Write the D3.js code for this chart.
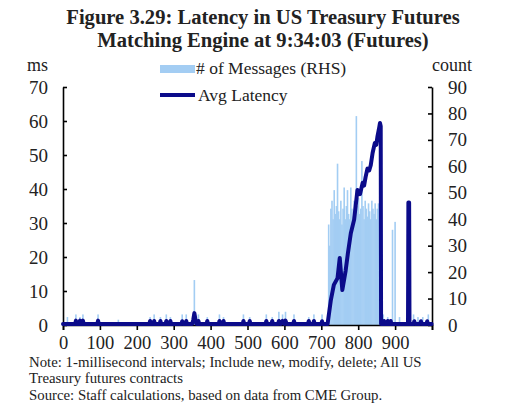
<!DOCTYPE html>
<html>
<head>
<meta charset="utf-8">
<script src="https://cdn.jsdelivr.net/npm/d3@7"></script>
<style>
  body { margin: 0; background: #fff; }
  svg text { font-family: "Liberation Serif", "Times New Roman", serif; fill: #222; }
  .axis path, .axis line { stroke: #000; stroke-width: 1.6; }
  .axis text { font-size: 19px; }
  .axis.xaxis text { font-size: 18.5px; }
</style>
</head>
<body>
<div id="chart"></div>
<script>
// latency (ms) at 1-millisecond points
const latMs  = [0, 33, 35, 37, 44, 46, 48, 52, 54, 56, 93, 95, 97, 234, 236, 238, 245, 247, 249, 262, 264, 266, 278, 280, 282, 289, 291, 293,
  321, 323, 325, 332, 334, 336, 350, 353, 356, 359, 362, 365, 367, 369, 389, 391, 393, 422, 424, 426, 433, 435, 437, 487, 489, 491,
  504, 506, 508, 549, 551, 553, 565, 567, 569, 583, 585, 590, 595, 600, 603, 606, 624, 626, 628, 664, 666, 668, 678, 680, 682, 700, 702, 704, 717,
  726, 734, 744, 750, 757, 766, 772, 780, 789, 798, 805, 812, 816, 820, 825, 830, 834, 839, 845, 849, 852, 856, 859, 861, 862,
  868, 870, 872, 878, 880, 882, 886, 888, 890, 935, 936, 938, 939, 950, 952, 954, 968, 970, 972, 985, 987, 989, 999];
const latVal = [0.3, 0.3, 1.3, 0.3, 0.3, 1.3, 0.3, 0.3, 1.3, 0.3, 0.3, 1.3, 0.3, 0.3, 1.2, 0.3, 0.3, 1.2, 0.3, 0.3, 1.2, 0.3, 0.3, 1.2, 0.3, 0.3, 1.2, 0.3,
  0.3, 1.1, 0.3, 0.3, 1.2, 0.3, 0.3, 1.5, 3.5, 1.5, 0.3, 0.3, 1.2, 0.3, 0.3, 1.2, 0.3, 0.3, 1.2, 0.3, 0.3, 1.2, 0.3, 0.3, 1.2, 0.3,
  0.3, 1.2, 0.3, 0.3, 1.2, 0.3, 0.3, 1.2, 0.3, 0.3, 1.2, 0.3, 1.2, 0.3, 1.3, 0.3, 0.3, 1.2, 0.3, 0.3, 1.2, 0.3, 0.3, 1.2, 0.3, 0.3, 1.1, 0.3, 0.3,
  7.4, 11.8, 13.8, 19.7, 10.3, 16, 21, 27, 31, 39.7, 38.5, 41.8, 41, 43.5, 46, 45.5, 47, 50.6, 53.5, 53, 55.3, 57.5, 59.4, 58.5, 0.3,
  0.3, 1.2, 0.3, 0.3, 1.2, 0.3, 0.3, 1.2, 0.3, 0.3, 36, 36, 0.3, 0.3, 1.1, 0.3, 0.3, 1.1, 0.3, 0.3, 1.1, 0.3, 0.3];

// # of messages per 1-ms interval (RHS)
const msgMs    = [12, 35, 46, 54, 95, 150, 236, 247, 264, 280, 291, 323, 334, 356, 367, 391, 424, 435, 489, 506, 551, 567, 585, 595, 603, 626, 666, 680, 702,
  720, 723, 726, 729, 732, 735, 738, 741, 744, 747, 750, 753, 756, 759, 762, 765, 768, 771, 774, 777, 780, 783, 786, 789, 792, 795,
  798, 801, 804, 807, 810, 813, 816, 819, 822, 825, 828, 831, 834, 837, 840, 843, 846, 849, 852, 855, 858,
  868, 880, 893, 900, 912, 950, 962, 975, 990];
const msgCount = [3, 4, 3, 4, 4, 2, 3, 4, 3, 4, 3, 4, 4, 17, 4, 3, 4, 3, 4, 3, 4, 3, 5, 4, 5, 4, 3, 4, 4,
  38, 30, 44, 47, 40, 51, 42, 45, 61, 43, 40, 47, 38, 44, 52, 40, 45, 51, 42, 40, 52, 44, 41, 47, 43, 79,
  45, 48, 42, 44, 62, 45, 40, 47, 44, 41, 46, 43, 40, 47, 44, 42, 46, 40, 44, 46, 38,
  4, 3, 36, 39, 3, 4, 3, 3, 4];

const leftTicks  = [0, 10, 20, 30, 40, 50, 60, 70];
const rightTicks = [0, 10, 20, 30, 40, 50, 60, 70, 80, 90];
const xTicks     = [0, 100, 200, 300, 400, 500, 600, 700, 800, 900, 1000];

const width = 512, height = 417;
const plot = { left: 63, right: 432, top: 87, bottom: 325 };
const barColor = '#a3cdf3', lineColor = '#0b0b8a';

const svg = d3.select('#chart').append('svg').attr('width', width).attr('height', height);

const x = d3.scaleLinear().domain([0, 1000]).range([plot.left, plot.right]);
const yL = d3.scaleLinear().domain([0, 70]).range([plot.bottom, plot.top]);
const yR = d3.scaleLinear().domain([0, 90]).range([plot.bottom, plot.top]);

// title
svg.append('text').attr('x', 263).attr('y', 24).attr('text-anchor', 'middle')
  .style('font-size', '20.6px').style('font-weight', 'bold')
  .text('Figure 3.29: Latency in US Treasury Futures');
svg.append('text').attr('x', 263).attr('y', 47).attr('text-anchor', 'middle')
  .style('font-size', '20.6px').style('font-weight', 'bold')
  .text('Matching Engine at 9:34:03 (Futures)');

// bars
const msgs = msgMs.map((m, i) => ({ ms: m, count: msgCount[i] }));
svg.append('g').selectAll('rect').data(msgs).enter().append('rect')
  .attr('x', d => x(d.ms) - 0.8)
  .attr('y', d => yR(d.count))
  .attr('width', 1.6)
  .attr('height', d => yR(0) - yR(d.count))
  .attr('fill', barColor);

// axes
svg.append('g').attr('class', 'axis').attr('transform', `translate(${plot.left},0)`)
  .call(d3.axisLeft(yL).tickValues(leftTicks).tickSizeInner(-4).tickSizeOuter(0).tickPadding(15));
svg.append('g').attr('class', 'axis').attr('transform', `translate(${plot.right},0)`)
  .call(d3.axisRight(yR).tickValues(rightTicks).tickSizeInner(-4).tickSizeOuter(0).tickPadding(16));
svg.append('g').attr('class', 'axis xaxis').attr('transform', `translate(0,${plot.bottom})`)
  .call(d3.axisBottom(x).tickValues(xTicks).tickSize(5).tickPadding(6)
    .tickFormat(d => d === 1000 ? '' : d));
svg.selectAll('.axis .domain').attr('stroke-width', 2);

// latency line
const lat = latMs.map((m, i) => ({ ms: m, v: latVal[i] }));
svg.append('path').datum(lat)
  .attr('fill', 'none').attr('stroke', lineColor).attr('stroke-width', 4)
  .attr('stroke-linejoin', 'round').attr('stroke-linecap', 'round')
  .attr('d', d3.line().x(d => x(d.ms)).y(d => yL(d.v)));

// unit labels
svg.append('text').attr('x', 27).attr('y', 71).style('font-size', '18px').text('ms');
svg.append('text').attr('x', 432).attr('y', 71).style('font-size', '18px').text('count');

// legend
svg.append('rect').attr('x', 160).attr('y', 65).attr('width', 35).attr('height', 8).attr('fill', barColor);
svg.append('text').attr('x', 196).attr('y', 74).style('font-size', '17.5px').text('# of Messages (RHS)');
svg.append('line').attr('x1', 160).attr('x2', 195).attr('y1', 95).attr('y2', 95)
  .attr('stroke', lineColor).attr('stroke-width', 4);
svg.append('text').attr('x', 198).attr('y', 101).style('font-size', '17.5px').text('Avg Latency');

// notes
const notes = ['Note: 1-millisecond intervals; Include new, modify, delete; All US',
  'Treasury futures contracts',
  'Source: Staff calculations, based on data from CME Group.'];
svg.append('g').selectAll('text').data(notes).enter().append('text')
  .attr('x', 29).attr('y', (d, i) => 367 + i * 16.3)
  .style('font-size', '14.8px').text(d => d);
</script>
</body>
</html>
